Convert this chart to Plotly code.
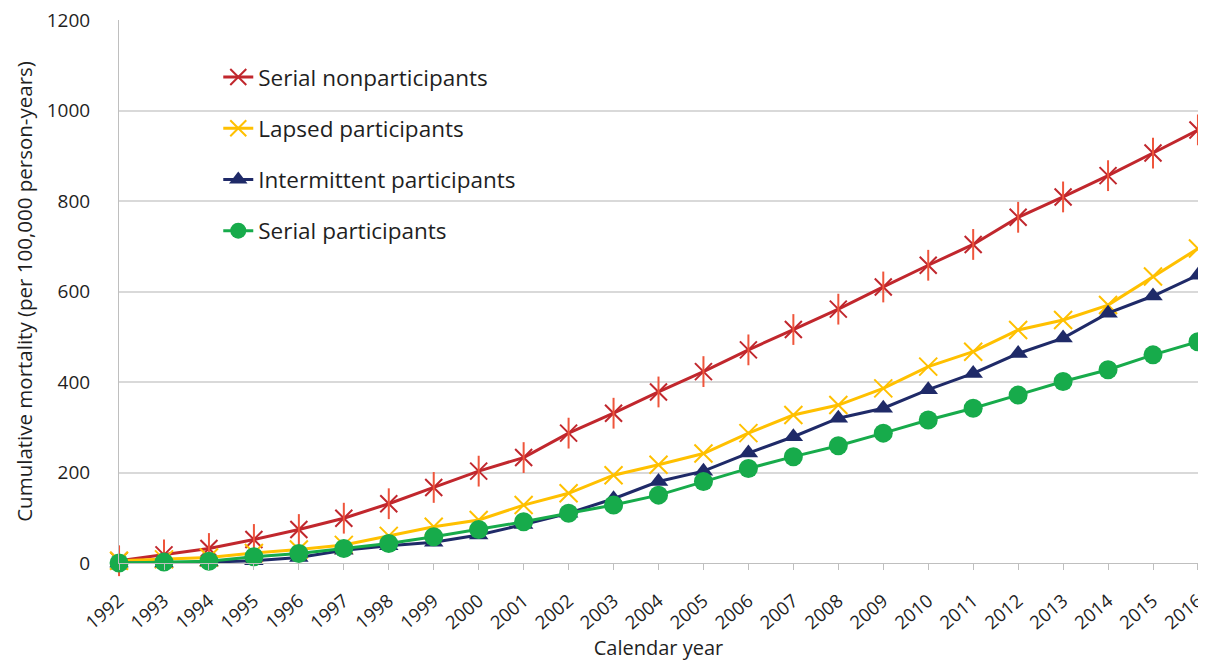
import plotly.graph_objects as go

years = list(range(1992, 2017))
serial_nonparticipants = [5, 18, 32, 52, 74, 99, 131, 167, 203, 233, 287, 331, 378, 423, 471, 516, 561, 610, 658, 704, 764, 809, 856, 906, 957]
lapsed_participants = [5, 8, 12, 22, 30, 40, 60, 80, 95, 128, 154, 194, 217, 242, 287, 327, 349, 386, 434, 467, 515, 537, 570, 633, 695]
intermittent_participants = [0, 0, 2, 5, 12, 28, 38, 46, 62, 85, 110, 142, 180, 203, 243, 279, 320, 342, 383, 419, 463, 497, 552, 590, 636]
serial_participants = [0, 2, 4, 14, 21, 32, 43, 58, 74, 91, 110, 128, 150, 180, 209, 235, 259, 287, 316, 342, 371, 401, 427, 460, 489]

RED = "#C1272D"
YELLOW = "#FFC000"
NAVY = "#1F2A68"
GREEN = "#17AB4B"
TXT = "#1f1f1f"

fig = go.Figure()

fig.add_trace(go.Scatter(
    x=years, y=serial_nonparticipants, name="Serial nonparticipants",
    mode="lines+markers", legendgroup="a",
    line=dict(color=RED, width=3),
    marker=dict(symbol="x-thin-open", size=17, line=dict(color=RED, width=2)),
    cliponaxis=False))
fig.add_trace(go.Scatter(
    x=years, y=serial_nonparticipants, name="Serial nonparticipants",
    mode="markers", legendgroup="a", showlegend=False, hoverinfo="skip",
    marker=dict(symbol="line-ns-open", size=22, line=dict(color=RED, width=2)),
    cliponaxis=False))
fig.add_trace(go.Scatter(
    x=years, y=lapsed_participants, name="Lapsed participants",
    mode="lines+markers", legendgroup="b",
    line=dict(color=YELLOW, width=3),
    marker=dict(symbol="x-thin-open", size=18, line=dict(color=YELLOW, width=2)),
    cliponaxis=False))
fig.add_trace(go.Scatter(
    x=years, y=intermittent_participants, name="Intermittent participants",
    mode="lines+markers", legendgroup="c",
    line=dict(color=NAVY, width=3),
    marker=dict(symbol="triangle-up", size=17, color=NAVY),
    cliponaxis=False))
fig.add_trace(go.Scatter(
    x=years, y=serial_participants, name="Serial participants",
    mode="lines+markers", legendgroup="d",
    line=dict(color=GREEN, width=3),
    marker=dict(symbol="circle", size=19, color=GREEN),
    cliponaxis=False))

# page body has an 8px margin: figure is sized/offset to compensate
fig.update_layout(
    width=1198, height=655,
    margin=dict(l=111, r=8, t=12, b=100),
    paper_bgcolor="white", plot_bgcolor="white",
    font=dict(family="Open Sans", color=TXT),
    showlegend=True,
    legend=dict(x=0.092, y=0.934, xanchor="left", yanchor="top",
                font=dict(size=22.5, color=TXT),
                traceorder="grouped", tracegroupgap=19,
                bgcolor="rgba(0,0,0,0)"),
)
fig.update_xaxes(
    range=[1991.999, 2016.001], tickmode="array", tickvals=years,
    ticktext=[str(y) for y in years], tickangle=-40,
    tickfont=dict(size=18.5, color=TXT), ticklabeloverflow="allow",
    showgrid=False, zeroline=False, automargin=False,
    showline=True, linecolor="#BFBFBF", linewidth=1,
    ticks="outside", ticklen=6, tickcolor="#BFBFBF", ticklabelstandoff=13,
    title=dict(text="Calendar year", font=dict(size=20, color=TXT), standoff=6),
)
fig.update_yaxes(
    range=[0, 1200], dtick=200,
    tickfont=dict(size=19, color=TXT), ticklabeloverflow="allow",
    showgrid=True, gridcolor="#D9D9D9", gridwidth=1.5,
    zeroline=False, showline=True, linecolor="#BFBFBF", linewidth=1,
    automargin=False, ticks="", ticklen=0, ticklabelstandoff=24,
    title=dict(text="Cumulative mortality (per 100,000 person-years)",
               font=dict(size=20.5, color=TXT), standoff=8),
)

fig.write_html("out.html")
